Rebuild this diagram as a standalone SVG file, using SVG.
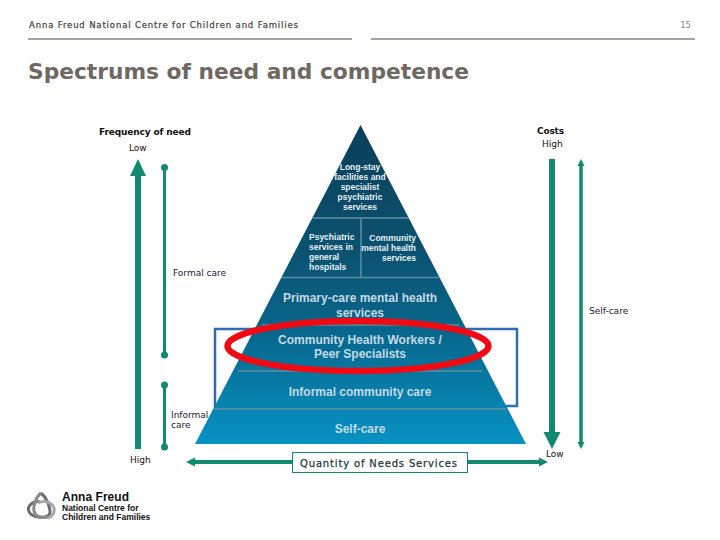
<svg xmlns="http://www.w3.org/2000/svg" width="720" height="540" viewBox="0 0 720 540">
<style>
text{font-family:"DejaVu Sans",Verdana,sans-serif;fill:#111}
.s{font-size:9px}
.b{font-size:9px;font-weight:bold}
.p{font-family:"Liberation Sans",Arial,sans-serif;fill:#e4eef3;text-anchor:middle;font-weight:bold}
.ps{font-size:8.5px}
.pl{font-size:12px;fill:#c4d9e4}
.rule{stroke:#a8a49c;stroke-width:2;fill:none}
.g{stroke:#128a70;fill:none}
.gf{fill:#128a70}
.band{stroke:#5f8ea5;stroke-width:1.5;fill:none}
.lg{font-family:"Liberation Sans",Arial,sans-serif;font-weight:bold;fill:#111}
</style>
<defs>
<linearGradient id="pyr" gradientUnits="userSpaceOnUse" x1="0" y1="125" x2="0" y2="444">
<stop offset="0" stop-color="#0b3f59"/>
<stop offset="0.4" stop-color="#0b5270"/>
<stop offset="0.65" stop-color="#08678c"/>
<stop offset="1" stop-color="#0792c3"/>
</linearGradient>
</defs>
<g id="header">
<text x="29" y="28" style="font-size:8.5px;fill:#4e4a44;stroke:#4e4a44;stroke-width:.25" textLength="269" lengthAdjust="spacing">Anna Freud National Centre for Children and Families</text>
<text x="691" y="28" text-anchor="end" style="font-size:8.5px;fill:#8a867e">15</text>
<path class="rule" d="M28 39H352M371 39H695"/>
<text x="28" y="79" style="font-size:22px;font-weight:bold;fill:#6e6860" textLength="441" lengthAdjust="spacingAndGlyphs">Spectrums of need and competence</text>
</g>
<g id="self-care-box">
<rect x="215" y="329" width="302" height="77" fill="none" stroke="#2f6db0" stroke-width="2.5"/>
</g>
<g id="pyramid">
<polygon points="360.500,125 526,444 195,444" fill="url(#pyr)"/>
<path class="band" d="M312 218H409M282 277.500H439M361 277V218M262 325H459M238 371H482M214 409H506"/>
<text class="p ps"><tspan x="360" y="170">Long-stay</tspan><tspan x="360" y="180">facilities and</tspan><tspan x="360" y="190">specialist</tspan><tspan x="360" y="200">psychiatric</tspan><tspan x="360" y="210">services</tspan></text>
<text class="p ps" style="text-anchor:start"><tspan x="309" y="240">Psychiatric</tspan><tspan x="309" y="250">services in</tspan><tspan x="309" y="260">general</tspan><tspan x="309" y="270">hospitals</tspan></text>
<text class="p ps" style="text-anchor:end"><tspan x="416" y="241">Community</tspan><tspan x="416" y="251">mental health</tspan><tspan x="416" y="261">services</tspan></text>
<text class="p pl"><tspan x="360" y="302">Primary-care mental health</tspan><tspan x="360" y="317">services</tspan></text>
<text class="p pl"><tspan x="360" y="344">Community Health Workers /</tspan><tspan x="360" y="358">Peer Specialists</tspan></text>
<text class="p pl" x="360" y="396">Informal community care</text>
<text class="p pl" x="360" y="433">Self-care</text>
</g>
<g id="highlight">
<ellipse cx="358" cy="346" rx="130.500" ry="25" fill="none" stroke="#f00a14" stroke-width="6.500"/>
</g>
<g id="connectors">
<path class="g" stroke-width="6" d="M138 172V449"/>
<polygon class="gf" points="138,159 146,176 130,176"/>
<path class="g" stroke-width="3" d="M164.500 167V355M164.500 385V447"/>
<circle class="gf" cx="164.500" cy="167.500" r="3.500"/>
<circle class="gf" cx="164.500" cy="355" r="3.500"/>
<circle class="gf" cx="164.500" cy="385" r="3.500"/>
<circle class="gf" cx="164.500" cy="447" r="3.500"/>
<path class="g" stroke-width="6" d="M552 159V436"/>
<polygon class="gf" points="552,449 543.500,432 560.500,432"/>
<path class="g" stroke-width="3.500" d="M581 165V443"/>
<polygon class="gf" points="581,159 584.500,166 577.500,166"/>
<polygon class="gf" points="581,449 584.500,442 577.500,442"/>
<path class="g" stroke-width="4" d="M192 462H542"/>
<polygon class="gf" points="186,462 195,457.500 195,466.500"/>
<polygon class="gf" points="548,462 539,457.500 539,466.500"/>
</g>
<g id="label-quantity">
<rect x="292.500" y="452.500" width="175" height="20" fill="#fff" stroke="#128a70" stroke-width="1"/>
<text x="300" y="467" style="fill:#1a3a40;font-size:10px;stroke:#1a3a40;stroke-width:.25" textLength="157">Quantity of Needs Services</text>
</g>
<g id="labels">
<text x="99" y="135" class="b" textLength="92">Frequency of need</text>
<text x="129" y="151" class="s">Low</text>
<text x="537" y="134" class="b" textLength="27">Costs</text>
<text x="542" y="147" class="s">High</text>
<text x="173" y="276" class="s" style="fill:#223">Formal care</text>
<text x="589" y="314" class="s" style="fill:#223">Self-care</text>
<text class="s" style="fill:#223"><tspan x="171" y="418">Informal</tspan><tspan x="171" y="428">care</tspan></text>
<text x="130" y="463" class="s">High</text>
<text x="546" y="457" class="s">Low</text>
</g>
<g id="logo">
<g fill="none" stroke-width="3">
<path stroke="#6e6e70" d="M41 493C46 497 50 506 50 512C50 517 44 518 38 517C30 516 26 510 30 505C33 502 37 501 40 502"/>
<path stroke="#8a8a8c" d="M41 493C36 497 33 506 34 511C35 517 42 518 48 517"/>
<path stroke="#a8a8aa" d="M38 503C44 500 52 502 54 508C55 513 52 517 48 518"/>
</g>
<text class="lg" x="62" y="501" style="font-size:12px" textLength="67">Anna Freud</text>
<text class="lg" style="font-size:8.500px"><tspan x="62" y="511">National Centre for</tspan><tspan x="62" y="520">Children and Families</tspan></text>
</g>
</svg>
